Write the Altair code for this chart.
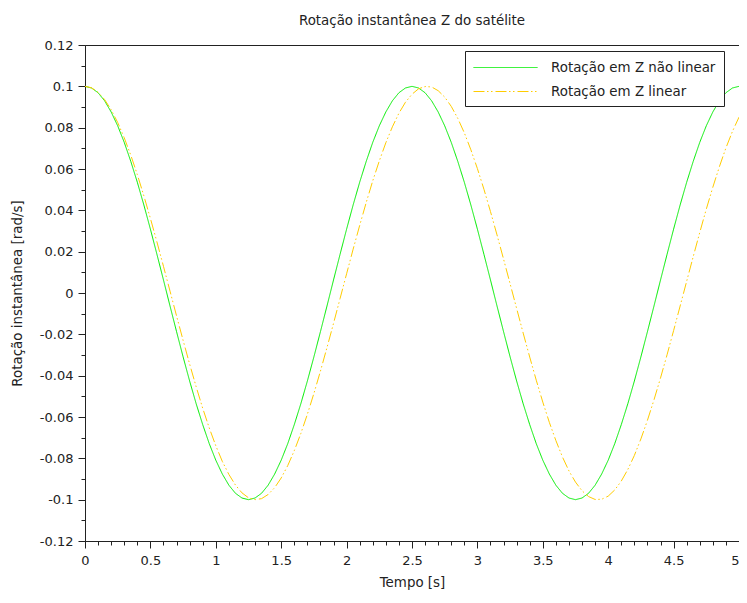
import altair as alt
import pandas as pd

# sample times [s]
tempo = [0.0, 0.05, 0.1, 0.15, 0.2, 0.25, 0.3, 0.35, 0.4, 0.45, 0.5, 0.55, 0.6, 0.65, 0.7, 0.75, 0.8, 0.85, 0.9, 0.95,
         1.0, 1.05, 1.1, 1.15, 1.2, 1.25, 1.3, 1.35, 1.4, 1.45, 1.5, 1.55, 1.6, 1.65, 1.7, 1.75, 1.8, 1.85, 1.9, 1.95,
         2.0, 2.05, 2.1, 2.15, 2.2, 2.25, 2.3, 2.35, 2.4, 2.45, 2.5, 2.55, 2.6, 2.65, 2.7, 2.75, 2.8, 2.85, 2.9, 2.95,
         3.0, 3.05, 3.1, 3.15, 3.2, 3.25, 3.3, 3.35, 3.4, 3.45, 3.5, 3.55, 3.6, 3.65, 3.7, 3.75, 3.8, 3.85, 3.9, 3.95,
         4.0, 4.05, 4.1, 4.15, 4.2, 4.25, 4.3, 4.35, 4.4, 4.45, 4.5, 4.55, 4.6, 4.65, 4.7, 4.75, 4.8, 4.85, 4.9, 4.95,
         5.0]

# non-linear rotation [rad/s]
nao_linear = [0.1, 0.0992, 0.0969, 0.0930, 0.0876, 0.0809, 0.0729, 0.0637, 0.0536, 0.0426,
              0.0309, 0.0187, 0.0063, -0.0063, -0.0187, -0.0309, -0.0426, -0.0536, -0.0637, -0.0729,
              -0.0809, -0.0876, -0.0930, -0.0969, -0.0992, -0.1, -0.0992, -0.0969, -0.0930, -0.0876,
              -0.0809, -0.0729, -0.0637, -0.0536, -0.0426, -0.0309, -0.0187, -0.0063, 0.0063, 0.0187,
              0.0309, 0.0426, 0.0536, 0.0637, 0.0729, 0.0809, 0.0876, 0.0930, 0.0969, 0.0992,
              0.1, 0.0992, 0.0969, 0.0930, 0.0876, 0.0809, 0.0729, 0.0637, 0.0536, 0.0426,
              0.0309, 0.0187, 0.0063, -0.0063, -0.0187, -0.0309, -0.0426, -0.0536, -0.0637, -0.0729,
              -0.0809, -0.0876, -0.0930, -0.0969, -0.0992, -0.1, -0.0992, -0.0969, -0.0930, -0.0876,
              -0.0809, -0.0729, -0.0637, -0.0536, -0.0426, -0.0309, -0.0187, -0.0063, 0.0063, 0.0187,
              0.0309, 0.0426, 0.0536, 0.0637, 0.0729, 0.0809, 0.0876, 0.0930, 0.0969, 0.0992,
              0.1]

# linear rotation [rad/s]
linear = [0.1, 0.0993, 0.0971, 0.0936, 0.0887, 0.0825, 0.0751, 0.0667, 0.0573, 0.0470,
          0.0361, 0.0247, 0.0129, 0.0009, -0.0111, -0.0229, -0.0344, -0.0454, -0.0558, -0.0653,
          -0.0739, -0.0815, -0.0878, -0.0929, -0.0967, -0.0991, -0.1000, -0.0995, -0.0975, -0.0942,
          -0.0895, -0.0835, -0.0763, -0.0680, -0.0587, -0.0486, -0.0378, -0.0264, -0.0147, -0.0027,
          0.0093, 0.0212, 0.0327, 0.0438, 0.0543, 0.0639, 0.0727, 0.0804, 0.0870, 0.0923,
          0.0962, 0.0988, 0.0999, 0.0997, 0.0979, 0.0948, 0.0903, 0.0845, 0.0775, 0.0693,
          0.0602, 0.0502, 0.0394, 0.0281, 0.0164, 0.0045, -0.0075, -0.0194, -0.0310, -0.0422,
          -0.0528, -0.0626, -0.0714, -0.0793, -0.0861, -0.0915, -0.0957, -0.0985, -0.0999, -0.0998,
          -0.0983, -0.0953, -0.0910, -0.0854, -0.0786, -0.0706, -0.0616, -0.0517, -0.0411, -0.0299,
          -0.0182, -0.0063, 0.0057, 0.0176, 0.0293, 0.0406, 0.0512, 0.0611, 0.0702, 0.0782,
          0.0851]

series_names = ["Rotação em Z não linear", "Rotação em Z linear"]
series_colors = ["#00ee00", "#ffcc00"]

x_ticks = [0.0, 0.1, 0.2, 0.3, 0.4, 0.5, 0.6, 0.7, 0.8, 0.9, 1.0, 1.1, 1.2, 1.3, 1.4, 1.5, 1.6, 1.7, 1.8, 1.9,
           2.0, 2.1, 2.2, 2.3, 2.4, 2.5, 2.6, 2.7, 2.8, 2.9, 3.0, 3.1, 3.2, 3.3, 3.4, 3.5, 3.6, 3.7, 3.8, 3.9,
           4.0, 4.1, 4.2, 4.3, 4.4, 4.5, 4.6, 4.7, 4.8, 4.9, 5.0]
y_ticks = [-0.12, -0.11, -0.1, -0.09, -0.08, -0.07, -0.06, -0.05, -0.04, -0.03, -0.02, -0.01, 0.0,
           0.01, 0.02, 0.03, 0.04, 0.05, 0.06, 0.07, 0.08, 0.09, 0.1, 0.11, 0.12]

rows = []
for t, v in zip(tempo, nao_linear):
    rows.append({"t": t, "v": v, "s": series_names[0], "o": 0})
for t, v in zip(tempo, linear):
    rows.append({"t": t, "v": v, "s": series_names[1], "o": 1})
df = pd.DataFrame(rows)

FONT = "DejaVu Sans"
INK = "#222222"

x_major = "abs(datum.value*2 - round(datum.value*2)) < 0.001"
y_major = "abs(datum.value*50 - round(datum.value*50)) < 0.001"

leg = alt.Legend(orient="none", legendX=380, legendY=6)

chart = alt.Chart(df).mark_line(strokeWidth=1).encode(
    x=alt.X("t:Q", scale=alt.Scale(domain=[0, 5], nice=False, zero=False),
            axis=alt.Axis(values=x_ticks, title="Tempo [s]", grid=False,
                          tickSize={"condition": {"test": x_major, "value": 7}, "value": 4},
                          labelAlign={"condition": {"test": "datum.value > 4.99", "value": "right"},
                                      "value": "center"},
                          labelExpr=f"{x_major} ? replace(format(datum.value, '~g'), '\u2212', '-') : ''",
                          labelPadding=6, titlePadding=8, labelOverlap=False, labelFlush=False)),
    y=alt.Y("v:Q", scale=alt.Scale(domain=[-0.12, 0.12], nice=False, zero=False),
            axis=alt.Axis(values=y_ticks, title="Rotação instantânea [rad/s]", grid=False,
                          tickSize={"condition": {"test": y_major, "value": 7}, "value": 4},
                          labelExpr=f"{y_major} ? replace(format(datum.value, '~g'), '\u2212', '-') : ''",
                          labelPadding=5, titlePadding=15, labelOverlap=False, labelFlush=False)),
    color=alt.Color("s:N", scale=alt.Scale(domain=series_names, range=series_colors), title=None,
                    legend=leg),
    strokeDash=alt.StrokeDash("s:N", scale=alt.Scale(domain=series_names,
                                                     range=[[1, 0], [11, 2.5, 1.5, 2.5, 1.5, 3]]),
                              title=None, legend=leg),
    order=alt.Order("o:Q"),
).properties(
    width=654, height=496,
    title=alt.TitleParams("Rotação instantânea Z do satélite", font=FONT, fontSize=13.4,
                          fontWeight="normal", color=INK, offset=12),
    autosize=alt.AutoSizeParams(type="none"),
    padding={"left": 77, "top": 37, "right": 0, "bottom": 50},
).configure_view(
    stroke=INK, strokeWidth=1
).configure_axis(
    domainColor=INK, tickColor=INK, labelColor=INK, titleColor=INK,
    labelFont=FONT, titleFont=FONT, labelFontSize=13, titleFontSize=13.4,
    titleFontWeight="normal", domainWidth=1, tickWidth=1
).configure_legend(
    symbolType="M-1,0H7", symbolSize=256, symbolStrokeWidth=1,
    labelFont=FONT, labelFontSize=13.4, labelColor=INK, labelOffset=61,
    strokeColor=INK, fillColor="white", padding=8, rowPadding=9,
    labelLimit=400
)

chart.save("out.html", embed_options={"renderer": "svg", "actions": False})
